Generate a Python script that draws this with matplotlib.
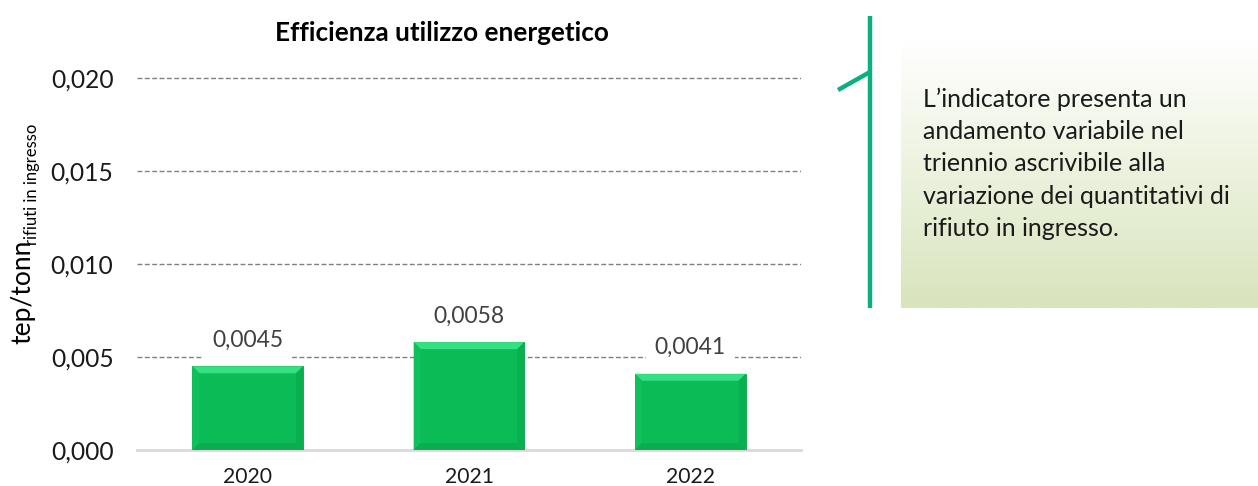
import matplotlib
matplotlib.use("Agg")
import matplotlib.pyplot as plt
import numpy as np
from matplotlib.patches import Polygon
from matplotlib.lines import Line2D

# ---- data ----
categories = ["2020", "2021", "2022"]
values = [0.0045, 0.0058, 0.0041]
value_labels = ["0,0045", "0,0058", "0,0041"]
yticks = [0.000, 0.005, 0.010, 0.015, 0.020]
ytick_labels = ["0,000", "0,005", "0,010", "0,015", "0,020"]
title = "Efficienza utilizzo energetico"
ylabel_main = "tep/tonn"
ylabel_sub = "rifiuti in ingresso"
note_lines = ["L\u2019indicatore presenta un",
              "andamento variabile nel",
              "triennio ascrivibile alla",
              "variazione dei quantitativi di",
              "rifiuto in ingresso."]

FONT = "Lato"
plt.rcParams['font.family'] = [FONT, 'DejaVu Sans']

W, H = 1258, 486
fig = plt.figure(figsize=(W / 100, H / 100), dpi=100)

def px_rect(x0, y_top, w, h):
    return [x0 / W, 1 - (y_top + h) / H, w / W, h / H]

# axes: x 137..801, y0=450, 0.020 at y=78
ymax = 0.0205
ax_h = 372 * ymax / 0.02
ax = fig.add_axes(px_rect(137, 450 - ax_h, 664, ax_h))
ax.set_xlim(-0.5, len(categories) - 0.5)
ax.set_ylim(0, ymax)
for s in ax.spines.values():
    s.set_visible(False)

x = np.arange(len(categories))
bars = ax.bar(x, values, width=0.5, color="#0BBB55", edgecolor="#08A24A",
              linewidth=0.6, zorder=3)

ax.set_yticks(yticks)
ax.set_yticklabels(ytick_labels, fontsize=17.7, color="#1a1a1a")
ax.set_xticks(x)
ax.set_xticklabels(categories, fontsize=15.2, color="#1a1a1a")
ax.tick_params(axis="y", length=0, pad=17)
ax.tick_params(axis="x", length=0, pad=12)

for yt in yticks[1:]:
    ax.axhline(yt, color="#808080", lw=1.0, ls=(0, (3.5, 1.8)), zorder=1)
ax.axhline(0, color="#D9D9D9", lw=2.0, zorder=2, clip_on=False)

# bevel effect derived from bar geometry
fig.canvas.draw()
inv = ax.transData.inverted()
b = 7
for rect in bars:
    (X0, Y0), (X1, Y1) = ax.transData.transform(
        [(rect.get_x(), rect.get_y()),
         (rect.get_x() + rect.get_width(), rect.get_y() + rect.get_height())])
    polys = {
        "#35E082": [(X0, Y1), (X1, Y1), (X1 - b, Y1 - b), (X0 + b, Y1 - b)],
        "#10C05B": [(X0, Y0), (X0, Y1), (X0 + b, Y1 - b), (X0 + b, Y0 + b)],
        "#0AB050": [(X1, Y0), (X1, Y1), (X1 - b, Y1 - b), (X1 - b, Y0 + b)],
        "#0AAD4F": [(X0, Y0), (X1, Y0), (X1 - b, Y0 + b), (X0 + b, Y0 + b)],
    }
    for col, pts in polys.items():
        ax.add_patch(Polygon(inv.transform(pts), closed=True, facecolor=col,
                             edgecolor="none", zorder=4))

for xi, v, lab in zip(x, values, value_labels):
    ax.annotate(lab, (xi, v), xytext=(0, 26), textcoords="offset pixels",
                ha="center", va="center", fontsize=16.5, color="#404040",
                zorder=5,
                bbox=dict(boxstyle="square,pad=0.4", fc="white", ec="none"))

fig.text(442 / W, 1 - 33 / H, title, ha="center", va="center",
         fontsize=18.8, fontweight="bold", color="black")

# y label: main + subscript
fig.text(23 / W, 1 - 344 / H, ylabel_main, rotation=90, ha="center",
         va="bottom", fontsize=19, color="black")
fig.text(32 / W, 1 - 245 / H, ylabel_sub, rotation=90, ha="center",
         va="bottom", fontsize=12, color="black")

# right panel: gradient box
pax = fig.add_axes(px_rect(901, 40, 357, 268))
grad = np.linspace(0, 1, 256)[:, None]
top = np.array([1.0, 1.0, 1.0])
bot = np.array([216, 228, 188]) / 255
img = top[None, None, :] * (1 - grad[:, :, None]) + bot[None, None, :] * grad[:, :, None]
pax.imshow(img, aspect="auto", extent=[0, 1, 0, 1], origin="upper")
pax.set_axis_off()

green = "#0BAF80"
fig.add_artist(Line2D([870 / W, 870 / W], [1 - 16 / H, 1 - 308 / H],
                      color=green, lw=3.2, solid_capstyle="butt"))
fig.add_artist(Line2D([838 / W, 870 / W], [1 - 90 / H, 1 - 72 / H],
                      color=green, lw=3.2, solid_capstyle="butt"))

for i, line in enumerate(note_lines):
    fig.text(923 / W, 1 - (107 + 32.2 * i) / H, line, ha="left",
             va="baseline", fontsize=18, color="#1a1a1a")

fig.savefig("out.png", dpi=100)
